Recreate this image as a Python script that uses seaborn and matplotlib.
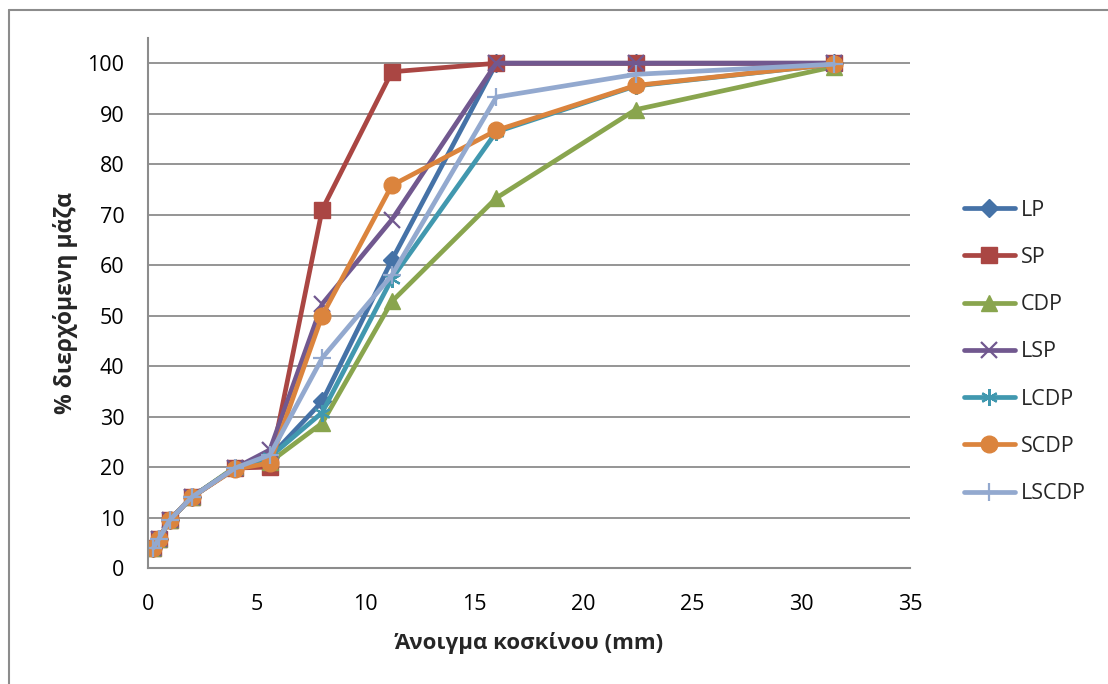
import matplotlib
matplotlib.use("Agg")
import matplotlib.pyplot as plt
import matplotlib.lines as mlines
import seaborn as sns
import pandas as pd

# Sieve openings (mm)
sieve = [0.25, 0.5, 1, 2, 4, 5.6, 8, 11.2, 16, 22.4, 31.5]

# Cumulative passing (%) for each mixture
lp    = [4.0, 5.8, 9.5, 14.0, 19.8, 22.0, 33.0, 61.0, 100.0, 100.0, 100.0]
sp    = [4.0, 5.8, 9.5, 14.0, 19.8, 20.0, 71.0, 98.3, 100.0, 100.0, 100.0]
cdp   = [4.0, 5.8, 9.5, 14.0, 20.0, 21.0, 28.7, 52.8, 73.3, 90.8, 99.3]
lsp   = [4.0, 5.8, 9.5, 14.0, 19.8, 23.4, 52.3, 69.0, 100.0, 100.0, 100.0]
lcdp  = [4.0, 5.8, 9.5, 14.0, 19.8, 22.0, 30.8, 57.3, 86.4, 95.5, 99.8]
scdp  = [4.0, 5.8, 9.5, 14.0, 19.6, 20.8, 50.0, 75.8, 86.7, 95.6, 99.8]
lscdp = [4.0, 5.8, 9.5, 14.0, 19.8, 22.4, 41.6, 58.0, 93.3, 97.8, 99.8]

names = ["LP", "SP", "CDP", "LSP", "LCDP", "SCDP", "LSCDP"]
series = [lp, sp, cdp, lsp, lcdp, scdp, lscdp]
colors = ["#4572A7", "#AA4643", "#89A54E", "#71588F", "#4198AF", "#DB843D", "#93A9CF"]
markers = ["D", "s", "^", "x", (6, 2, 0), "o", "+"]
msizes = [9, 12, 11, 11, 12, 12, 13]
mew = [1, 1, 1, 1.6, 1.6, 1, 1.6]

rows = []
for n, vals in zip(names, series):
    for s, v in zip(sieve, vals):
        rows.append({"sieve": s, "passing": v, "mix": n})
df = pd.DataFrame(rows)

sns.set_theme(style="white")
plt.rcParams["font.family"] = ["Open Sans", "DejaVu Sans"]

fig = plt.figure(figsize=(11.08, 6.84), dpi=100)
ax = fig.add_axes([148 / 1108, 1 - 568 / 684, (910 - 148) / 1108, (568 - 38) / 684])

for n, c, m, ms, mw in zip(names, colors, markers, msizes, mew):
    sub = df[df["mix"] == n]
    sns.lineplot(data=sub, x="sieve", y="passing", ax=ax, color=c, lw=3.4,
                 marker=m, markersize=ms, markeredgecolor=c, markerfacecolor=c,
                 markeredgewidth=mw, legend=False, solid_capstyle="round",
                 solid_joinstyle="round")

ax.set_xlim(0, 35)
ax.set_ylim(0, 105)
ax.set_xticks(range(0, 36, 5))
ax.set_yticks(range(0, 101, 10))
ax.yaxis.grid(True, color="#8c8c8c", lw=1.3)
ax.xaxis.grid(False)
for side in ["top", "right"]:
    ax.spines[side].set_visible(False)
for side in ["left", "bottom"]:
    ax.spines[side].set_color("#8c8c8c")
    ax.spines[side].set_linewidth(1.5)
ax.tick_params(axis="both", length=0, labelsize=15.5, colors="black")
ax.tick_params(axis="y", pad=17)
ax.tick_params(axis="x", pad=19)

ax.set_xlabel("Άνοιγμα κοσκίνου (mm)", fontsize=16, fontweight="bold", labelpad=12)
ax.set_ylabel("% διερχόμενη μάζα", fontsize=16.5, fontweight="bold", labelpad=7)

handles = [mlines.Line2D([], [], color=c, lw=3.4, marker=m, markersize=ms,
                         markeredgecolor=c, markerfacecolor=c, markeredgewidth=mw,
                         solid_capstyle="round")
           for c, m, ms, mw in zip(colors, markers, msizes, mew)]
fig.legend(handles, names, loc="upper left", bbox_to_anchor=(955 / 1108, 1 - 191 / 684),
           frameon=False, fontsize=15.5, handlelength=2.4, handletextpad=0.25,
           labelspacing=1.22, borderaxespad=0)

# Chart area border
border = dict(color="#8c8c8c", lw=1.5, transform=fig.transFigure)
fig.add_artist(mlines.Line2D([8.5 / 1108, 1], [1 - 9.5 / 684, 1 - 9.5 / 684], **border))
fig.add_artist(mlines.Line2D([8.5 / 1108, 8.5 / 1108], [0, 1 - 9.5 / 684], **border))

fig.savefig("out.png", dpi=100)
